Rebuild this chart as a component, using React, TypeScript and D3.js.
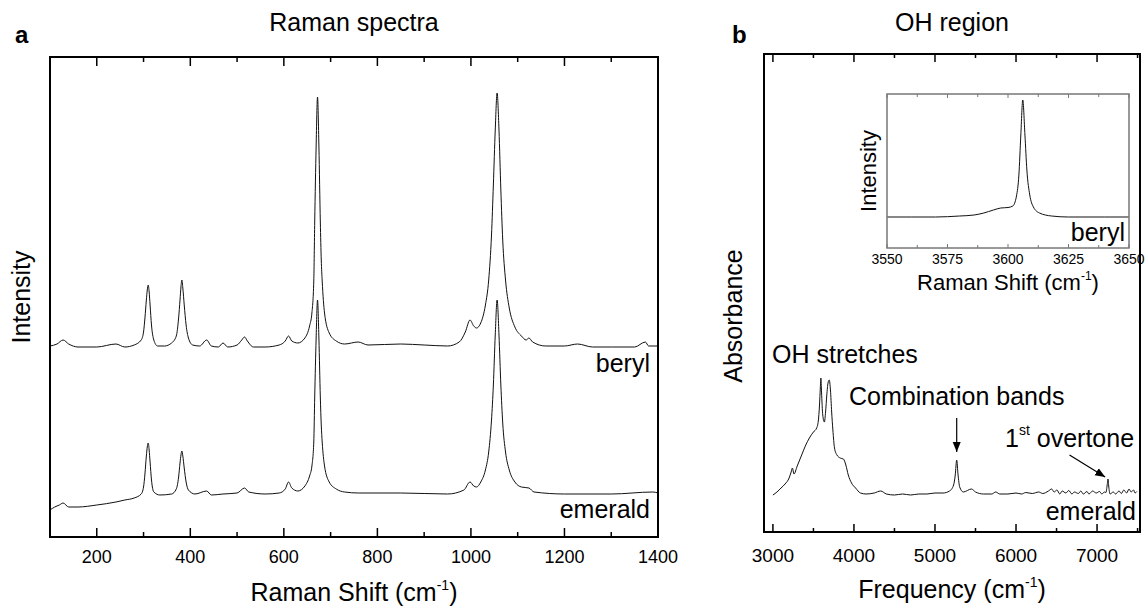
import * as d3 from "d3";

const FONT = "'Liberation Sans', Arial, Helvetica, sans-serif";

// panel a: Raman spectra, [shift cm-1, intensity a.u.]
const berylRaman: [number, number][] = [
  [100, 191], [115, 193], [128, 197], [140, 193], [160, 190], [200, 190], [241, 193], [260, 190],
  [280, 192], [295, 197], [300, 205], [303, 219], [306, 237], [308, 247], [310, 252], [312, 245],
  [314, 232], [317, 212], [322, 197], [330, 191], [345, 191], [360, 194], [370, 201], [375, 219],
  [378, 237], [380, 250], [382, 257], [384, 249], [387, 232], [391, 212], [396, 199], [405, 192],
  [420, 191], [435, 197], [445, 191], [460, 190], [470, 194], [480, 190], [500, 192], [510, 197],
  [516, 200], [522, 196], [535, 190], [560, 190], [590, 192], [603, 196], [610, 201], [617, 196],
  [630, 194], [645, 199], [655, 211], [660, 224], [664, 256], [666, 315], [669, 390], [672, 440],
  [675, 390], [678, 315], [680, 277], [682, 256], [687, 224], [697, 204], [712, 196], [730, 193],
  [759, 195], [780, 192], [850, 193], [900, 192], [950, 191], [975, 195], [988, 205], [998, 217],
  [1006, 211], [1012, 209], [1021, 214], [1031, 232], [1038, 257], [1044, 302], [1048, 352],
  [1052, 407], [1056, 444], [1060, 407], [1064, 347], [1068, 297], [1074, 257], [1082, 229],
  [1094, 210], [1108, 201], [1118, 197], [1124, 199], [1132, 195], [1160, 191], [1200, 191],
  [1228, 193], [1260, 190], [1300, 190], [1350, 190], [1373, 195], [1380, 191], [1400, 191],
];

const emeraldRaman: [number, number][] = [
  [100, 27], [110, 30], [120, 32], [128, 34], [140, 30], [160, 30], [200, 32], [241, 35],
  [260, 37], [280, 39], [295, 43], [300, 50], [303, 63], [306, 81], [308, 90], [310, 94],
  [312, 87], [314, 75], [317, 57], [322, 45], [335, 42], [360, 43], [370, 48], [375, 60],
  [378, 74], [380, 82], [382, 86], [384, 81], [387, 69], [391, 55], [396, 47], [410, 43],
  [435, 46], [445, 42], [470, 43], [500, 44], [516, 49], [525, 45], [560, 43], [590, 44],
  [603, 48], [610, 55], [617, 49], [630, 46], [645, 51], [655, 61], [660, 71], [664, 95],
  [666, 140], [669, 198], [672, 237], [675, 198], [678, 140], [680, 112], [682, 95], [687, 71],
  [697, 55], [712, 48], [730, 45], [760, 44], [850, 44], [950, 43], [985, 47], [998, 55],
  [1006, 51], [1012, 50], [1021, 55], [1031, 67], [1038, 85], [1044, 117], [1048, 152],
  [1052, 202], [1056, 237], [1060, 202], [1064, 152], [1068, 114], [1074, 85], [1082, 67],
  [1094, 55], [1108, 50], [1124, 49], [1135, 45], [1200, 43], [1300, 43], [1389, 45], [1400, 44],
];

// panel b: absorbance of emerald, [frequency cm-1, absorbance a.u.]
const emeraldAbsorbance: [number, number][] = [
  [3000, 37], [3050, 40], [3100, 44], [3150, 48], [3200, 54], [3225, 60], [3240, 64], [3260, 58],
  [3300, 66], [3350, 76], [3400, 86], [3450, 94], [3500, 100], [3540, 104], [3560, 111],
  [3575, 127], [3585, 144], [3592, 154], [3600, 140], [3615, 117], [3635, 110], [3650, 120],
  [3665, 137], [3680, 149], [3695, 152], [3710, 142], [3725, 120], [3740, 102], [3760, 84],
  [3790, 77], [3830, 74], [3870, 73], [3900, 67], [3930, 57], [3970, 49], [4020, 44], [4080, 39],
  [4150, 38], [4250, 39], [4330, 41], [4400, 38], [4500, 37], [4600, 38], [4700, 37], [4800, 38],
  [4900, 38], [5000, 39], [5100, 39], [5180, 41], [5230, 47], [5250, 57], [5268, 72], [5285, 57],
  [5305, 45], [5350, 40], [5450, 43], [5500, 40], [5600, 38], [5700, 38], [5750, 40], [5800, 38],
  [5900, 38], [6000, 39], [6070, 38], [6120, 39.5], [6200, 38.5], [6280, 40], [6330, 38.5],
  [6400, 41], [6440, 43], [6470, 40], [6505, 42], [6540, 38], [6570, 41], [6615, 39], [6650, 41.5],
  [6690, 38], [6720, 40], [6770, 38.5], [6800, 41], [6830, 38], [6875, 40.5], [6900, 38],
  [6945, 41], [6990, 39], [7030, 40.5], [7060, 38], [7090, 40], [7110, 39.5], [7125, 47],
  [7135, 53], [7145, 45], [7160, 38], [7200, 40], [7230, 38], [7270, 41], [7300, 38.5],
  [7330, 42], [7365, 39], [7395, 43], [7420, 40], [7450, 42], [7470, 39], [7490, 40.5],
];

// inset: Raman OH band of beryl
const berylOH: [number, number][] = [
  [3550, 31], [3560, 31], [3570, 31], [3580, 32], [3586, 33], [3590, 35], [3594, 38], [3597, 40],
  [3600, 40.5], [3602, 42], [3603.5, 52], [3604.5, 73], [3605.3, 113], [3606.1, 148], [3607, 113],
  [3607.8, 78], [3609, 53], [3610.5, 41], [3613, 35], [3618, 32], [3625, 31], [3640, 31], [3650, 31],
];

const ramanMajor = [200, 400, 600, 800, 1000, 1200, 1400];
const ramanMinor = [300, 500, 700, 900, 1100, 1300];
const freqMajor = [3000, 4000, 5000, 6000, 7000];
const freqMinor = [3500, 4500, 5500, 6500, 7500];
const insetMajor = [3550, 3575, 3600, 3625, 3650];
const insetMinor = [3562.5, 3587.5, 3612.5, 3637.5];

type Scale = d3.ScaleLinear<number, number>;

function XTicks({ x, top, bottom, major, minor, len, minorLen, color = "#000", width = 1.5 }:
  { x: Scale; top: number; bottom: number; major: number[]; minor: number[]; len: number; minorLen: number; color?: string; width?: number }) {
  const all = [...major.map(v => [v, len]), ...minor.map(v => [v, minorLen])];
  return (
    <g stroke={color} strokeWidth={width}>
      {all.map(([v, l], i) => (
        <g key={i}>
          <line x1={x(v)} x2={x(v)} y1={bottom} y2={bottom - l} />
          <line x1={x(v)} x2={x(v)} y1={top} y2={top + l} />
        </g>
      ))}
    </g>
  );
}

function Spectrum({ data, x, y }: { data: [number, number][]; x: Scale; y: Scale }) {
  const line = d3.line<[number, number]>().x(d => x(d[0])).y(d => y(d[1])).curve(d3.curveMonotoneX);
  return <path d={line(data) ?? ""} fill="none" stroke="#111" strokeWidth={1} />;
}

export default function App() {
  // panel a
  const ax = d3.scaleLinear().domain([100, 1400]).range([50, 658]);
  const ay = d3.scaleLinear().domain([0, 480]).range([537, 57]);
  // panel b
  const bx = d3.scaleLinear().domain([2890, 7530]).range([764, 1140]);
  const by = d3.scaleLinear().domain([0, 478]).range([532, 54]);
  // inset
  const ix = d3.scaleLinear().domain([3550, 3650]).range([887, 1129]);
  const iy = d3.scaleLinear().domain([0, 154]).range([248, 94]);

  const [aT, aB] = ay.range().slice().reverse();
  const [bT, bB] = by.range().slice().reverse();
  const [iT, iB] = iy.range().slice().reverse();

  return (
    <svg width={1148} height={609} style={{ position: "absolute", left: 0, top: 0, background: "#fff" }}
      fontFamily={FONT}>
      <defs>
        <marker id="arrow" viewBox="0 0 10 10" refX="10" refY="5" markerWidth="10" markerHeight="10"
          markerUnits="userSpaceOnUse" orient="auto">
          <path d="M0,1 L10,5 L0,9 Z" fill="#000" />
        </marker>
      </defs>

      {/* ---- panel a ---- */}
      <text x={15} y={43} fontSize={24} fontWeight="bold">a</text>
      <text x={(ax.range()[0] + ax.range()[1]) / 2} y={31} fontSize={25} textAnchor="middle">Raman spectra</text>

      <Spectrum data={berylRaman} x={ax} y={ay} />
      <Spectrum data={emeraldRaman} x={ax} y={ay} />

      <rect x={ax.range()[0]} y={aT} width={ax.range()[1] - ax.range()[0]} height={aB - aT}
        fill="none" stroke="#000" strokeWidth={2} />
      <XTicks x={ax} top={aT} bottom={aB} major={ramanMajor} minor={ramanMinor} len={9} minorLen={5} />
      {ramanMajor.map(v => (
        <text key={v} x={ax(v)} y={563} fontSize={18} textAnchor="middle">{v}</text>
      ))}
      <text x={650} y={372} fontSize={25} textAnchor="end">beryl</text>
      <text x={650} y={518} fontSize={25} textAnchor="end">emerald</text>

      <text x={(ax.range()[0] + ax.range()[1]) / 2} y={601} fontSize={25} textAnchor="middle">
        Raman Shift (cm<tspan dy={-11} fontSize={14}>-1</tspan><tspan dy={11}>)</tspan>
      </text>
      <text transform={`translate(30,${(aT + aB) / 2}) rotate(-90)`} fontSize={25} textAnchor="middle">Intensity</text>

      {/* ---- panel b ---- */}
      <text x={732} y={43} fontSize={24} fontWeight="bold">b</text>
      <text x={(bx.range()[0] + bx.range()[1]) / 2} y={31} fontSize={25} textAnchor="middle">OH region</text>

      <Spectrum data={emeraldAbsorbance} x={bx} y={by} />

      <rect x={bx.range()[0]} y={bT} width={bx.range()[1] - bx.range()[0]} height={bB - bT}
        fill="none" stroke="#000" strokeWidth={2} />
      <XTicks x={bx} top={bT} bottom={bB} major={freqMajor} minor={freqMinor} len={8} minorLen={4} />
      {freqMajor.map(v => (
        <text key={v} x={bx(v)} y={562} fontSize={19} textAnchor="middle">{v}</text>
      ))}
      <text x={(bx.range()[0] + bx.range()[1]) / 2} y={598} fontSize={25} textAnchor="middle">
        Frequency (cm<tspan dy={-11} fontSize={14}>-1</tspan><tspan dy={11}>)</tspan>
      </text>
      <text transform={`translate(742,316) rotate(-90)`} fontSize={25} textAnchor="middle">Absorbance</text>

      <text x={772} y={363} fontSize={25}>OH stretches</text>
      <text x={bx(5268)} y={405} fontSize={25} textAnchor="middle">Combination bands</text>
      <line x1={bx(5268)} x2={bx(5268)} y1={by(114)} y2={by(80)} stroke="#000" strokeWidth={1.2}
        markerEnd="url(#arrow)" />
      <text x={1005} y={447} fontSize={25}>
        1<tspan dy={-12} fontSize={14}>st</tspan><tspan dy={12}> overtone</tspan>
      </text>
      <line x1={bx(6660)} x2={bx(7100)} y1={by(77)} y2={by(55)} stroke="#000" strokeWidth={1.2}
        markerEnd="url(#arrow)" />
      <text x={1136} y={520} fontSize={25} textAnchor="end">emerald</text>

      {/* ---- inset ---- */}
      <Spectrum data={berylOH} x={ix} y={iy} />
      <rect x={ix.range()[0]} y={iT} width={ix.range()[1] - ix.range()[0]} height={iB - iT}
        fill="none" stroke="#777" strokeWidth={1.5} />
      <XTicks x={ix} top={iT} bottom={iB} major={insetMajor} minor={insetMinor} len={4} minorLen={3}
        color="#777" width={1} />
      {insetMajor.map(v => (
        <text key={v} x={ix(v)} y={264} fontSize={14} textAnchor="middle">{v}</text>
      ))}
      <text x={1125} y={241} fontSize={25} textAnchor="end">beryl</text>
      <text x={(ix.range()[0] + ix.range()[1]) / 2} y={290} fontSize={22} textAnchor="middle">
        Raman Shift (cm<tspan dy={-10} fontSize={12}>-1</tspan><tspan dy={10}>)</tspan>
      </text>
      <text transform={`translate(876,${(iT + iB) / 2}) rotate(-90)`} fontSize={22} textAnchor="middle">Intensity</text>
    </svg>
  );
}
